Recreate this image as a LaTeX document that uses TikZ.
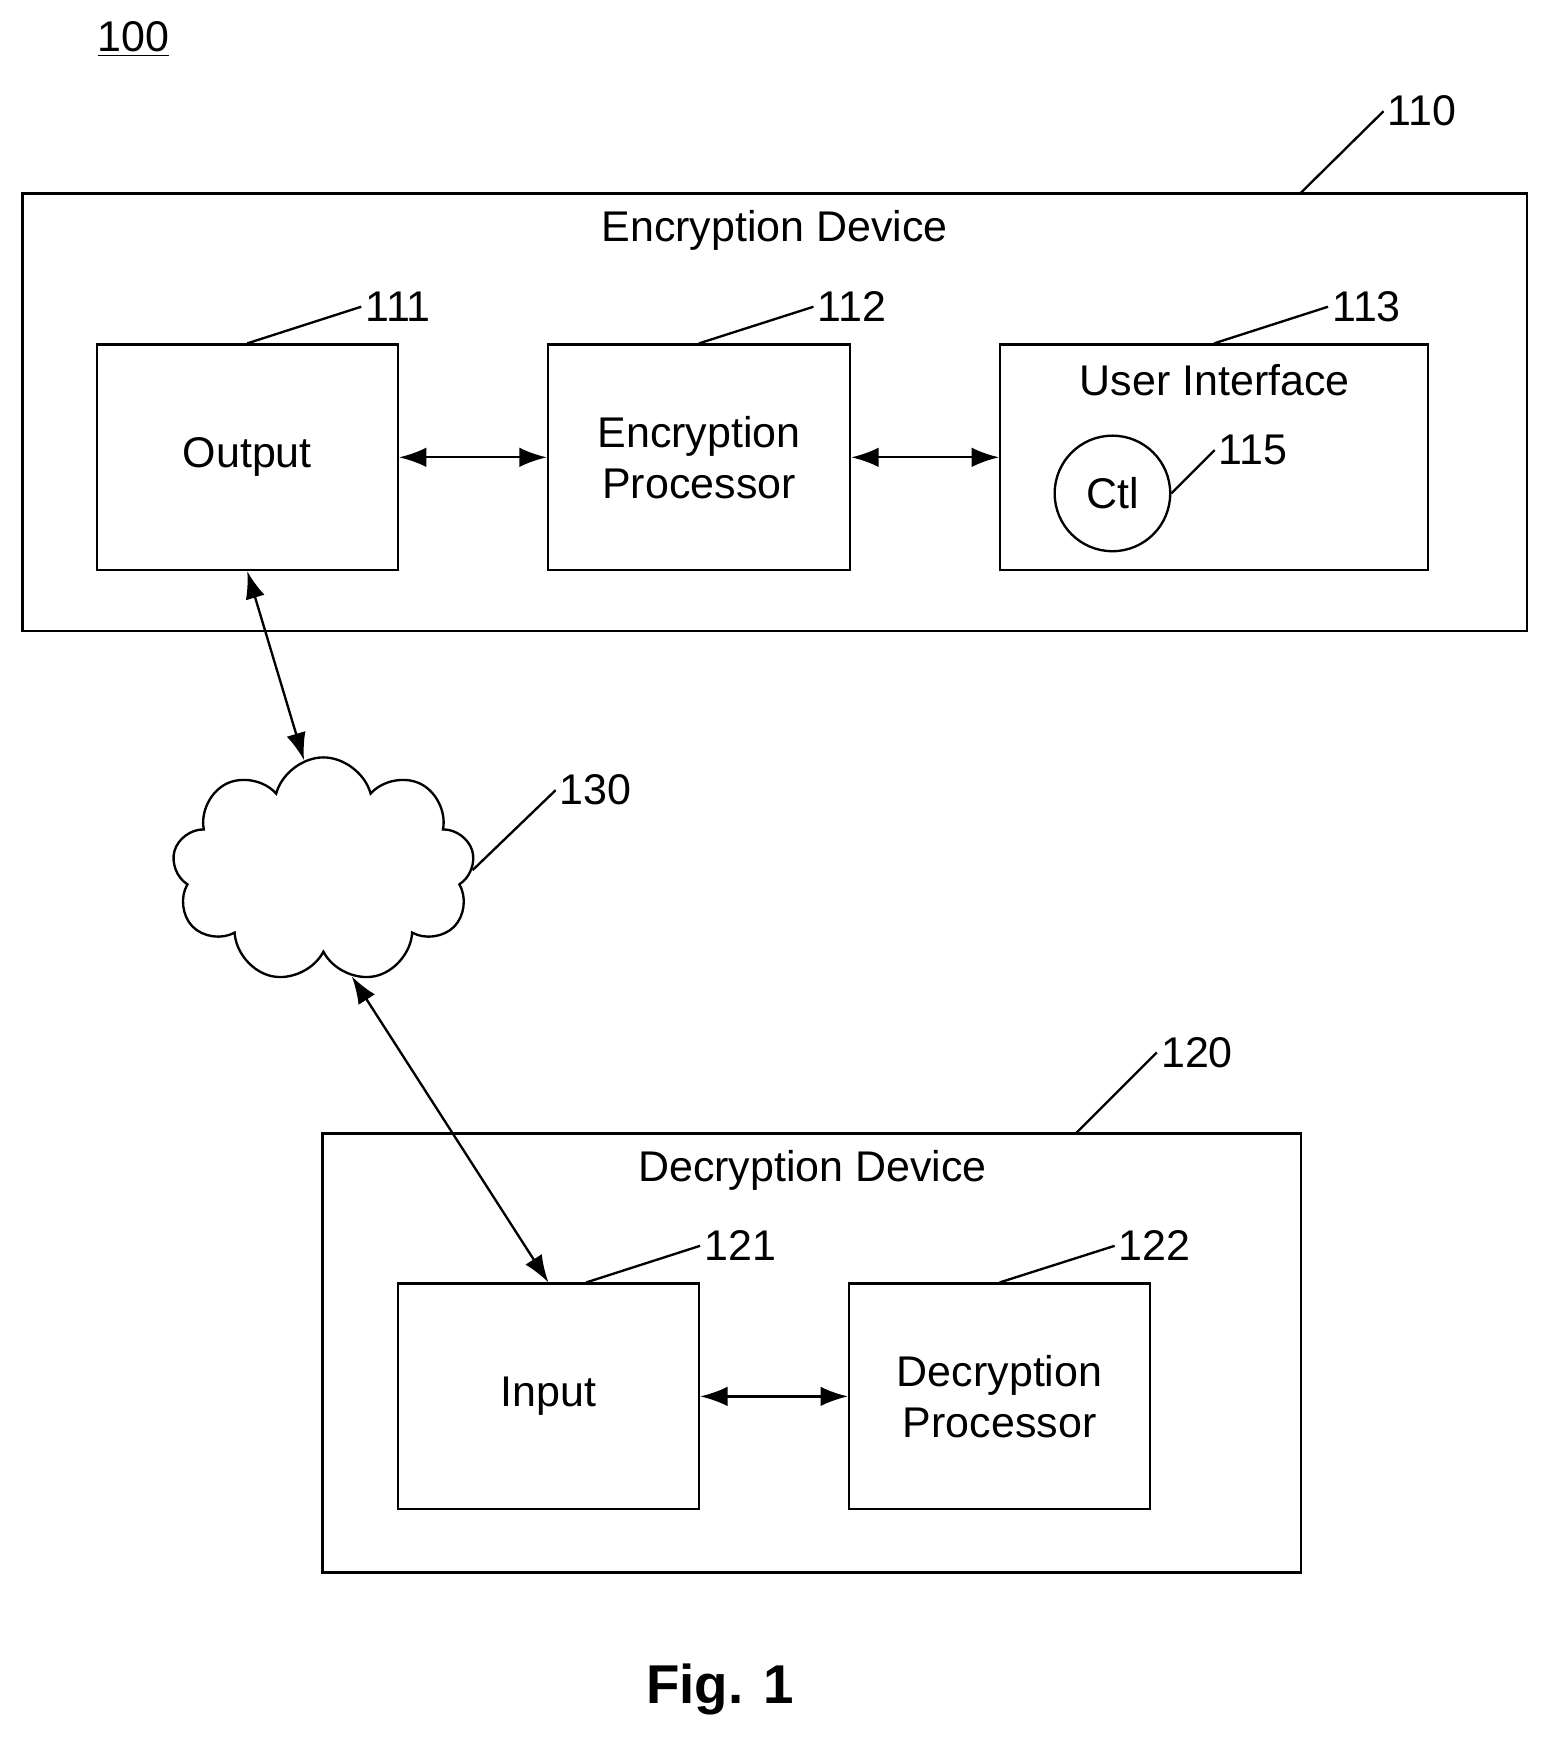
\documentclass[tikz,border=0pt]{standalone}
\usepackage{fontspec}
\setmainfont{Liberation Sans}
\usetikzlibrary{shapes.symbols,arrows.meta}
\begin{document}
\begin{tikzpicture}[x=0.02cm, y=-0.02cm,
  box/.style={draw, line width=1.2pt, align=center, font=\fontsize{22}{26}\selectfont},
  txt/.style={font=\fontsize{22}{26}\selectfont},
  num/.style={anchor=west, inner sep=2pt, font=\fontsize{22}{26}\selectfont},
  lead/.style={line width=1.2pt},
  dbl/.style={line width=1.2pt, {Latex[length=14pt,width=10pt]}-{Latex[length=14pt,width=10pt]}}]
  \useasboundingbox (0,0) rectangle (1390,1563);
  \node[txt] (fig) at (120,35) {\underline{100}};
  % encryption side
  \node[box, minimum width=27.08cm, minimum height=7.88cm] (enc) at (697,371) {};
  \node[txt] (enctxt) at (697,207) {Encryption Device};
  \node[box, minimum width=5.42cm, minimum height=4.06cm] (out) at (222.5,411.5) {Output};
  \node[box, minimum width=5.44cm, minimum height=4.06cm] (proc) at (629,411.5) {Encryption\\Processor};
  \node[box, minimum width=7.7cm, minimum height=4.06cm] (ui) at (1092.5,411.5) {};
  \node[txt] (uitxt) at (1093,342) {User Interface};
  \node[draw, circle, line width=1.2pt, minimum size=2.08cm, txt] (ctl) at (1001,444) {Ctl};
  \node[num] (n110) at (1245,100) {110};
  \node[num] (n111) at (325,276) {111};
  \node[num] (n112) at (732,276) {112};
  \node[num] (n113) at (1195,276) {113};
  \node[num] (n115) at (1093,405) {115};
  \draw[lead] (1170,174) -- (n110.west);
  \draw[lead] (out.north) -- (n111.west);
  \draw[lead] (proc.north) -- (n112.west);
  \draw[lead] (ui.north) -- (n113.west);
  \draw[lead] (ctl.east) -- (n115.west);
  \draw[dbl] (out.east) -- (proc.west);
  \draw[dbl] (proc.east) -- (ui.west);
  % network
  \node[cloud, draw, line width=1.2pt, cloud puffs=9, aspect=1.3, minimum width=5.44cm, minimum height=4.06cm] (net) at (291,783) {};
  \node[num] (n130) at (500,711) {130};
  \draw[lead] (net.east) -- (n130.west);
  \draw[dbl] (out.south) -- (net.100);
  % decryption side
  \node[box, minimum width=17.62cm, minimum height=7.9cm] (dec) at (730.5,1217.5) {};
  \node[txt] (dectxt) at (731,1053) {Decryption Device};
  \node[box, minimum width=5.42cm, minimum height=4.06cm] (in) at (493.5,1256.5) {Input};
  \node[box, minimum width=5.42cm, minimum height=4.06cm] (dproc) at (899.5,1256.5) {Decryption\\Processor};
  \node[num] (n120) at (1041,947) {120};
  \node[num] (n121) at (630,1121) {121};
  \node[num] (n122) at (1003,1121) {122};
  \draw[lead] (968,1020) -- (n120.west);
  \draw[lead] (in.north) ++(34,0) -- (n121.west);
  \draw[lead] (dproc.north) -- (n122.west);
  \draw[dbl] (net.-75) -- (in.north);
  \draw[dbl] (in.east) -- (dproc.west);
  \node[font=\fontsize{28}{32}\selectfont\bfseries] (cap) at (648,1520) {Fig. 1};
\end{tikzpicture}
\end{document}
